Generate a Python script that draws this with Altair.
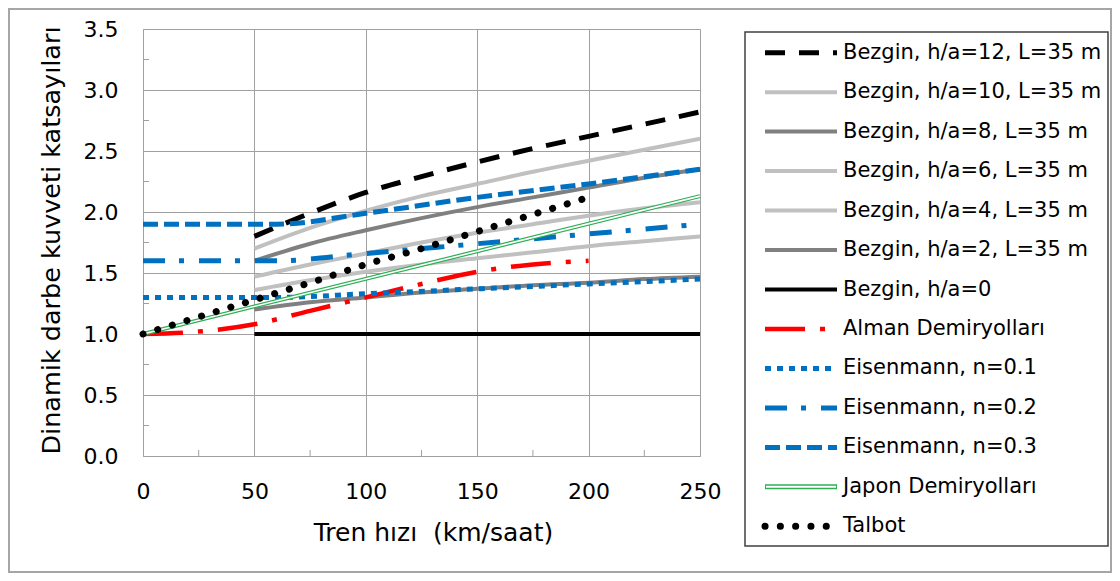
import altair as alt
import pandas as pd

# ---------------- data ----------------
SERIES = [
    "Bezgin, h/a=12, L=35 m",
    "Bezgin, h/a=10, L=35 m",
    "Bezgin, h/a=8, L=35 m",
    "Bezgin, h/a=6, L=35 m",
    "Bezgin, h/a=4, L=35 m",
    "Bezgin, h/a=2, L=35 m",
    "Bezgin, h/a=0",
    "Alman Demiryolları",
    "Eisenmann, n=0.1",
    "Eisenmann, n=0.2",
    "Eisenmann, n=0.3",
    "Japon Demiryolları",
    "Talbot",
]

bezgin_speed = [50, 75, 100, 125, 150, 175, 200, 225, 250]
bezgin_12 = [1.80, 1.99, 2.16, 2.29, 2.41, 2.52, 2.62, 2.72, 2.82]
bezgin_10 = [1.70, 1.87, 2.01, 2.13, 2.23, 2.33, 2.42, 2.51, 2.60]
bezgin_8 = [1.60, 1.74, 1.85, 1.95, 2.04, 2.12, 2.20, 2.28, 2.35]
bezgin_6 = [1.47, 1.57, 1.66, 1.75, 1.83, 1.90, 1.97, 2.03, 2.08]
bezgin_4 = [1.36, 1.44, 1.51, 1.57, 1.62, 1.67, 1.72, 1.76, 1.80]
bezgin_2 = [1.20, 1.26, 1.30, 1.34, 1.37, 1.40, 1.42, 1.45, 1.47]
bezgin0_speed = [50, 250]
bezgin_0 = [1.0, 1.0]

alman_speed = [0, 25, 50, 75, 100, 125, 150, 175, 200]
alman = [1.00, 1.02, 1.08, 1.19, 1.30, 1.41, 1.51, 1.57, 1.60]

eis_speed = [0, 60, 100, 150, 200, 250]
eis_01 = [1.30, 1.30, 1.33, 1.37, 1.41, 1.45]
eis_02 = [1.60, 1.60, 1.66, 1.74, 1.82, 1.90]
eis_03 = [1.90, 1.90, 1.99, 2.12, 2.23, 2.35]

japon_speed = [0, 250]
japon = [1.00, 2.13]

talbot_speed = [0, 25, 50, 75, 100, 125, 150, 175, 200]
talbot = [1.00, 1.14, 1.28, 1.42, 1.57, 1.70, 1.84, 1.98, 2.12]

x_ticks = [0, 50, 100, 150, 200, 250]
y_ticks = [0.0, 0.5, 1.0, 1.5, 2.0, 2.5, 3.0, 3.5]
x_minor = [25, 75, 125, 175, 225]
y_minor = [0.25, 0.75, 1.25, 1.75, 2.25, 2.75, 3.25]

series_data = {
    SERIES[0]: (bezgin_speed, bezgin_12),
    SERIES[1]: (bezgin_speed, bezgin_10),
    SERIES[2]: (bezgin_speed, bezgin_8),
    SERIES[3]: (bezgin_speed, bezgin_6),
    SERIES[4]: (bezgin_speed, bezgin_4),
    SERIES[5]: (bezgin_speed, bezgin_2),
    SERIES[6]: (bezgin0_speed, bezgin_0),
    SERIES[7]: (alman_speed, alman),
    SERIES[8]: (eis_speed, eis_01),
    SERIES[9]: (eis_speed, eis_02),
    SERIES[10]: (eis_speed, eis_03),
    SERIES[11]: (japon_speed, japon),
    SERIES[12]: (talbot_speed, talbot),
}

# ---------------- styles ----------------
LIGHT = "#c0c0c0"
DARK = "#808080"
BLUE = "#0070c0"
GREEN = "#2fae55"
styles = {
    SERIES[0]: dict(color="black", strokeWidth=5, strokeDash=[20, 14]),
    SERIES[1]: dict(color=LIGHT, strokeWidth=4),
    SERIES[2]: dict(color=DARK, strokeWidth=4),
    SERIES[3]: dict(color=LIGHT, strokeWidth=4),
    SERIES[4]: dict(color=LIGHT, strokeWidth=4),
    SERIES[5]: dict(color=DARK, strokeWidth=4),
    SERIES[6]: dict(color="black", strokeWidth=4),
    SERIES[7]: dict(color="#ff0000", strokeWidth=4.5, strokeDash=[40, 15, 5, 15]),
    SERIES[8]: dict(color=BLUE, strokeWidth=5, strokeDash=[6, 6]),
    SERIES[9]: dict(color=BLUE, strokeWidth=5, strokeDash=[22, 14, 5, 15]),
    SERIES[10]: dict(color=BLUE, strokeWidth=5, strokeDash=[15, 6]),
    SERIES[11]: dict(color=GREEN, strokeWidth=4),
    SERIES[12]: dict(color="black", strokeWidth=7, strokeDash=[0.1, 15.2], strokeCap="round"),
}

FONT = "DejaVu Sans"
GRID = "#a0a0a0"
W, H = 557, 427

X = alt.X(
    "hiz:Q",
    scale=alt.Scale(domain=[0, 250], nice=False, zero=False),
    axis=alt.Axis(values=x_ticks, format="d", title="Tren hızı\u00a0 (km/saat)",
                  labelPadding=25, titlePadding=18, labelFlush=False, ticks=False,
                  labelOverlap=False, titleX=290, titleFontSize=25),
)
Y = alt.Y(
    "phi:Q",
    scale=alt.Scale(domain=[0, 3.5], nice=False, zero=False),
    axis=alt.Axis(values=y_ticks, format=".1f", title="Dinamik darbe kuvveti katsayıları",
                  labelPadding=25, titlePadding=19, ticks=False, labelOverlap=False,
                  titleY=211),
)

layers = []
for name in SERIES:
    sp, vals = series_data[name]
    df = pd.DataFrame({"hiz": sp, "phi": vals})
    layers.append(
        alt.Chart(df).mark_line(interpolate="monotone", **styles[name]).encode(x=X, y=Y)
    )
    if name == "Japon Demiryolları":
        layers.append(
            alt.Chart(df).mark_line(color="white", strokeWidth=1.6).encode(x=X, y=Y)
        )

ym = alt.Chart(pd.DataFrame({"phi": y_minor})).mark_rule(color=GRID, strokeWidth=1).encode(
    y=Y, x=alt.value(0), x2=alt.value(6))
xm = alt.Chart(pd.DataFrame({"hiz": x_minor})).mark_rule(color=GRID, strokeWidth=1).encode(
    x=X, y=alt.value(H), y2=alt.value(H - 6))

border = alt.Chart(pd.DataFrame({"k": [0]})).mark_rect(
    filled=False, stroke="#a6a6a6", strokeWidth=2, fillOpacity=0
).encode(x=alt.value(-134), x2=alt.value(968), y=alt.value(-20), y2=alt.value(543))

main = alt.layer(border, ym, xm, *layers).properties(width=W, height=H)

# ---------------- legend ----------------
LW, LH = 363, 521
ROW = alt.Y("name:N", scale=alt.Scale(type="point", domain=SERIES, padding=0.6), axis=None)

leg_layers = []
box = alt.Chart(pd.DataFrame({"k": [0]})).mark_rect(
    filled=False, stroke="#404040", strokeWidth=1.5, fillOpacity=0
).encode(x=alt.value(0), x2=alt.value(LW), y=alt.value(3), y2=alt.value(517))
leg_layers.append(box)
for name in SERIES:
    d = pd.DataFrame({"name": [name]})
    st = dict(styles[name])
    if name == "Japon Demiryolları":
        st["strokeWidth"] = 5
    leg_layers.append(
        alt.Chart(d).mark_rule(**st).encode(y=ROW, x=alt.value(20), x2=alt.value(92))
    )
    if name == "Japon Demiryolları":
        leg_layers.append(
            alt.Chart(d).mark_rule(color="white", strokeWidth=2).encode(
                y=ROW, x=alt.value(21), x2=alt.value(91))
        )
texts = alt.Chart(pd.DataFrame({"name": SERIES})).mark_text(
    align="left", baseline="middle", font=FONT, fontSize=21, color="black"
).encode(y=ROW, x=alt.value(98), text="name:N")
leg_layers.append(texts)

legend = alt.layer(*leg_layers).properties(width=LW, height=LH)

chart = (
    alt.hconcat(main, legend, spacing=45, bounds="flush")
    .properties(padding=0)
    .configure_view(strokeWidth=0)
    .configure_axis(
        labelFont=FONT, titleFont=FONT, labelFontSize=22, titleFontSize=24,
        labelColor="black", titleColor="black", titleFontWeight="normal",
        gridColor=GRID, gridWidth=1, domainColor=GRID, domainWidth=1,
    )
    .configure_axisY(titleFontSize=25.5)
)

chart.save("out.html", embed_options={"renderer": "svg", "actions": False})
